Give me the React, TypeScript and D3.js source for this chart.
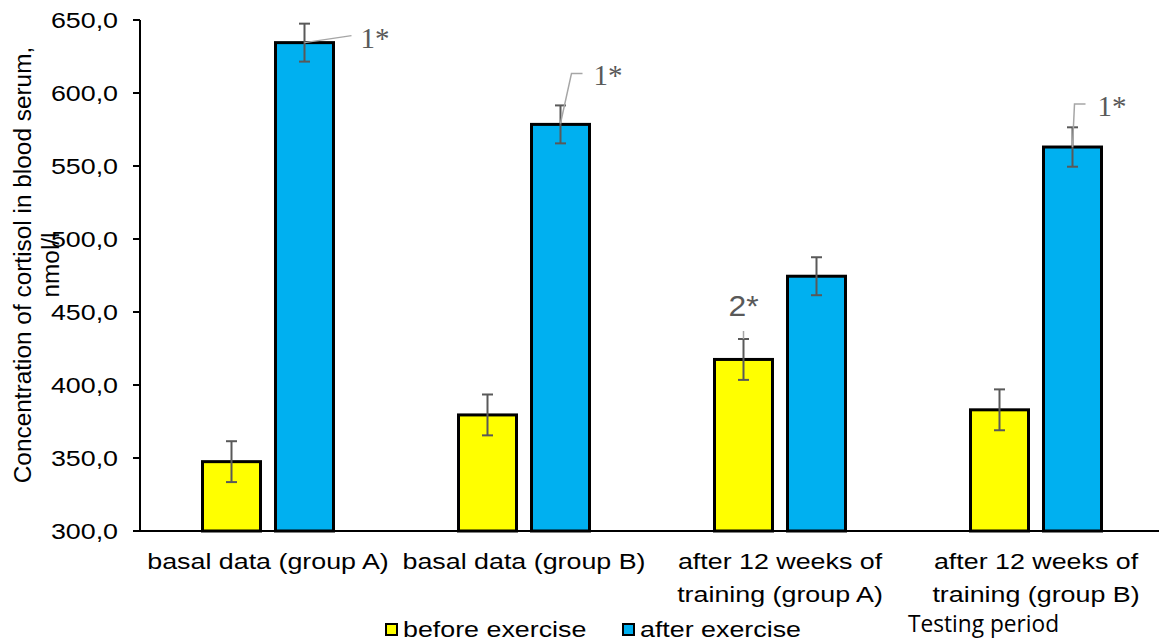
import React from "react";
import * as d3 from "d3";

const categories = [
  ["basal data (group A)"],
  ["basal data (group B)"],
  ["after 12 weeks of", "training (group A)"],
  ["after 12 weeks of", "training (group B)"],
];
const beforeValues = [347.5, 379.5, 417.5, 383];
const afterValues = [634.5, 578.5, 474.5, 563];
const beforeErr = [14, 14, 14, 14];
const afterErr = [13, 13, 13, 13.5];
const yTicks = [300, 350, 400, 450, 500, 550, 600, 650];
const seriesNames = ["before exercise", "after exercise"];
const seriesColors = ["#FFFF00", "#00B0F0"];

const W = 1159;
const H = 641;
const SX = 1.22; // the text in the original is stretched sideways

const font = "Liberation Sans, Arial";

// text drawn at (x,y) and stretched horizontally
const Wide = ({ x, y, anchor = "start", size = 22, children, fill = "#000", family = font, sx = SX }: any) => (
  <g transform={`translate(${x},${y}) scale(${sx},1)`}>
    <text x={0} y={0} textAnchor={anchor} fontFamily={family} fontSize={size} fill={fill}>
      {children}
    </text>
  </g>
);

const App = () => {
  const x = d3.scaleBand().domain(d3.range(categories.length).map(String)).range([140, 1164]);
  const y = d3.scaleLinear().domain([300, 650]).range([531, 20]);
  const barW = 58;
  const offset = 36.5;
  const fmt = (v: number) => d3.format(".1f")(v).replace(".", ",");
  const cx = (i: number) => (x(String(i)) as number) + x.bandwidth() / 2;

  const series = [
    { values: beforeValues, err: beforeErr, dx: -offset },
    { values: afterValues, err: afterErr, dx: offset },
  ];

  return (
    <svg width={W} height={H} style={{ position: "absolute", left: 0, top: 0, background: "#fff" }}>
      {/* y axis */}
      <line x1={140} x2={140} y1={y(650)} y2={y(300)} stroke="#000" strokeWidth={2} />
      {yTicks.map((t) => (
        <g key={t}>
          <line x1={133} x2={140} y1={y(t)} y2={y(t)} stroke="#000" strokeWidth={2} />
          <Wide x={118} y={y(t) + 8} anchor="end">
            {fmt(t)}
          </Wide>
        </g>
      ))}
      <text transform={`translate(31,${265}) rotate(-90)`} textAnchor="middle" fontFamily={font} fontSize={24.4}>
        <tspan x={0} dy={0}>Concentration of cortisol in blood serum,</tspan>
        <tspan x={0} dy={28}>nmol/l</tspan>
      </text>

      {/* bars */}
      {series.map((s, si) =>
        s.values.map((v, i) => {
          const bx = cx(i) + s.dx;
          return (
            <g key={`${si}-${i}`}>
              <rect
                x={bx - barW / 2}
                y={y(v)}
                width={barW}
                height={y(300) - y(v)}
                fill={seriesColors[si]}
                stroke="#000"
                strokeWidth={3}
              />
              <line x1={bx} x2={bx} y1={y(v + s.err[i])} y2={y(v - s.err[i])} stroke="#595959" strokeWidth={2} />
              <line x1={bx - 5.5} x2={bx + 5.5} y1={y(v + s.err[i])} y2={y(v + s.err[i])} stroke="#595959" strokeWidth={2} />
              <line x1={bx - 5.5} x2={bx + 5.5} y1={y(v - s.err[i])} y2={y(v - s.err[i])} stroke="#595959" strokeWidth={2} />
            </g>
          );
        })
      )}

      {/* x axis */}
      <line x1={140} x2={W} y1={y(300)} y2={y(300)} stroke="#000" strokeWidth={2} />
      {categories.map((lines, i) =>
        lines.map((l, j) => (
          <Wide key={`${i}-${j}`} x={cx(i)} y={569 + j * 33} anchor="middle">
            {l}
          </Wide>
        ))
      )}

      {/* significance labels */}
      <g stroke="#a6a6a6" strokeWidth={1.5} fill="none">
        <polyline points={`${cx(0) + offset},${y(afterValues[0])} ${cx(0) + offset + 47},${y(afterValues[0]) - 7}`} />
        <polyline
          points={`${cx(1) + offset},${y(afterValues[1]) - 1} ${cx(1) + offset + 11},${y(afterValues[1]) - 51} ${cx(1) + offset + 22},${y(afterValues[1]) - 51}`}
        />
        <polyline
          points={`${cx(3) + offset},${y(afterValues[3])} ${cx(3) + offset + 2},${y(afterValues[3]) - 43} ${cx(3) + offset + 13},${y(afterValues[3]) - 43}`}
        />
        <line x1={cx(2) - offset} x2={cx(2) - offset} y1={y(beforeValues[2] + beforeErr[2])} y2={y(beforeValues[2] + beforeErr[2]) - 8} />
      </g>
      <g fill="#595959" fontFamily="Liberation Serif, Times New Roman" fontSize={29}>
        <text x={cx(0) + offset + 56} y={y(afterValues[0]) + 5}>1*</text>
        <text x={cx(1) + offset + 33} y={y(afterValues[1]) - 39}>1*</text>
        <text x={cx(3) + offset + 25} y={y(afterValues[3]) - 31}>1*</text>
      </g>
      <Wide x={cx(2) - offset} y={y(beforeValues[2]) - 43} anchor="middle" size={29} fill="#595959" sx={1.1}>
        2*
      </Wide>

      {/* legend */}
      {seriesNames.map((name, i) => {
        const lx = i === 0 ? 386 : 623;
        return (
          <g key={name}>
            <rect x={lx} y={624} width={11} height={11} fill={seriesColors[i]} stroke="#000" strokeWidth={2} />
            <Wide x={lx + 17} y={637}>
              {name}
            </Wide>
          </g>
        );
      })}
      <text x={908} y={632} fontFamily="Open Sans" fontSize={23} textLength={151} lengthAdjust="spacingAndGlyphs">
        Testing period
      </text>
    </svg>
  );
};

export default App;
